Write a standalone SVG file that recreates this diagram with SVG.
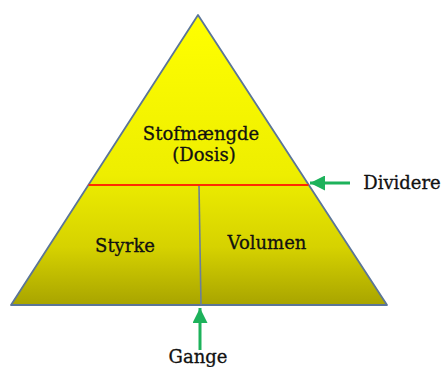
<svg xmlns="http://www.w3.org/2000/svg" width="444" height="367" viewBox="0 0 444 367">
  <defs>
    <linearGradient id="fill" x1="0" y1="15" x2="0" y2="305" gradientUnits="userSpaceOnUse">
      <stop offset="0" stop-color="#ffff00"/>
      <stop offset="0.55" stop-color="#eeee00"/>
      <stop offset="0.8" stop-color="#d6d200"/>
      <stop offset="1" stop-color="#a8a400"/>
    </linearGradient>
    <marker id="arrow" viewBox="0 0 10 10" refX="10" refY="5" markerWidth="5" markerHeight="5" markerUnits="strokeWidth" orient="auto">
      <path d="M0,0 L10,5 L0,10 Z" fill="#1db25b"/>
    </marker>
  </defs>
  <style>
    .lbl { font-family: "DejaVu Serif", "Liberation Serif", serif; font-size: 18px; fill: #111; stroke: #111; stroke-width: 0.3; text-anchor: middle; }
    .edge { stroke: #1db25b; stroke-width: 3; fill: none; }
  </style>
  <g id="pyramid">
    <polygon points="198,15 387,305 11,305" fill="url(#fill)" stroke="#5b7598" stroke-width="1.8" stroke-linejoin="round"/>
    <line x1="88.5" y1="185" x2="308.5" y2="185" stroke="#ff2a00" stroke-width="2"/>
    <line x1="199" y1="186" x2="201" y2="305" stroke="#6a7f9a" stroke-width="1.6"/>
  </g>
  <g id="top">
    <text class="lbl" x="201" y="140">Stofmængde</text>
    <text class="lbl" x="204" y="161">(Dosis)</text>
  </g>
  <g id="left">
    <text class="lbl" x="125" y="252">Styrke</text>
  </g>
  <g id="right">
    <text class="lbl" x="267" y="249">Volumen</text>
  </g>
  <g id="dividere">
    <text class="lbl" x="402" y="189">Dividere</text>
  </g>
  <g id="gange">
    <text class="lbl" x="198" y="363">Gange</text>
  </g>
  <g id="connectors">
    <line class="edge" x1="350" y1="183" x2="310" y2="183" marker-end="url(#arrow)"/>
    <line class="edge" x1="200" y1="350" x2="200" y2="308" marker-end="url(#arrow)"/>
  </g>
</svg>
